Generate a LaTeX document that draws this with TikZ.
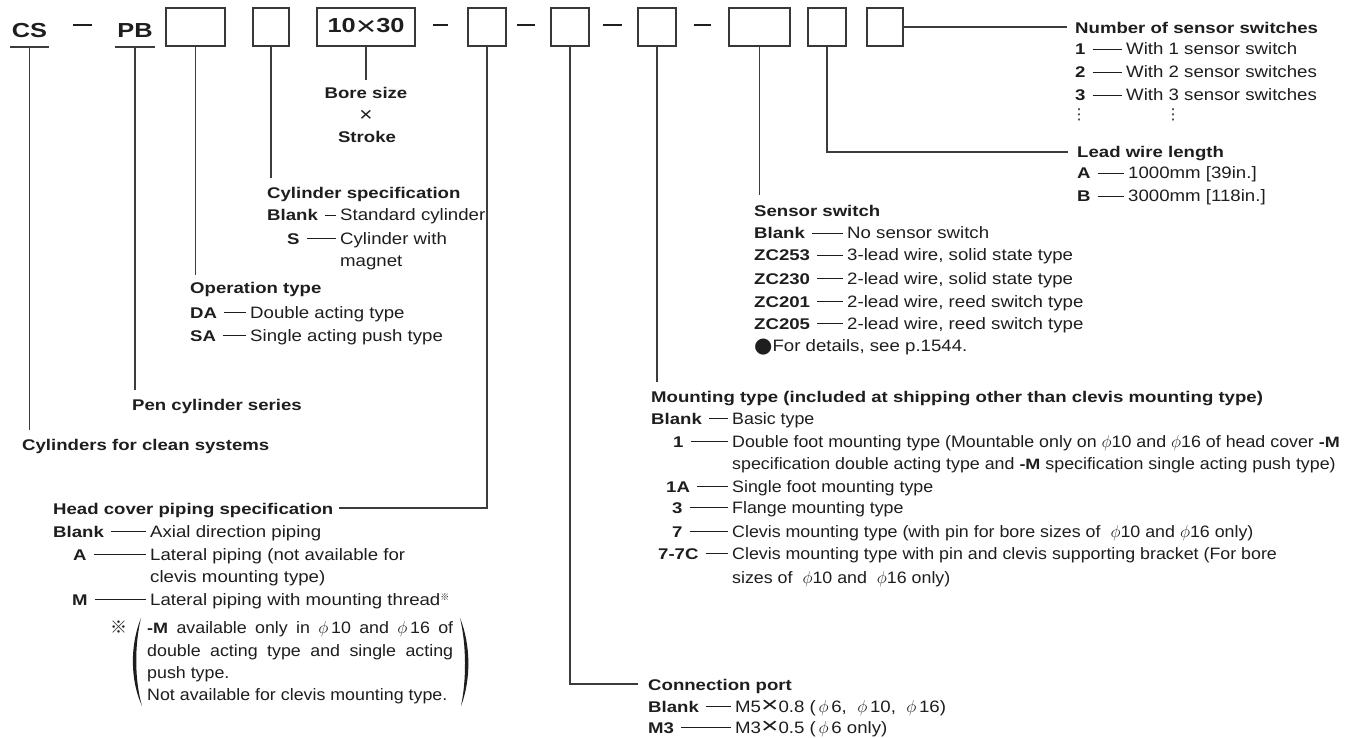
\documentclass[tikz,border=0pt]{standalone}
\usepackage{fontspec}
\setmainfont{Liberation Sans}
\newfontfamily\bdf[FakeStretch=1.13]{Liberation Sans}
\newfontfamily\bdn[FakeStretch=1.08]{Liberation Sans}
\newfontfamily\hdf[FakeStretch=1.2]{Liberation Sans Bold}
\newfontfamily\bigf[FakeStretch=1.25]{Liberation Sans Bold}
\newfontfamily\bigreg[FakeStretch=1.3]{Liberation Sans}
\newfontfamily\cjk{Noto Sans CJK JP}
\newfontfamily\dejavu{DejaVu Sans}
\definecolor{ink}{HTML}{1E1E1E}
\definecolor{linec}{HTML}{3C3C3C}
\definecolor{boxc}{HTML}{383838}
\newcommand\bd{\bdf\fontsize{16.5}{19}\selectfont}
\newcommand\bdnarrow{\bdn\fontsize{16.5}{19}\selectfont}
\newcommand\hd{\hdf\fontsize{15.5}{18}\selectfont}
\newcommand\hdb{\bigf\fontsize{20.3}{24}\selectfont}
\newcommand\phx{$\phi$}
\newcommand\boldM{{\hdf\fontsize{15}{18}\selectfont -M}}
\newcommand\mX{\raisebox{-0.5pt}{\scalebox{1.6}[1.35]{×}}}
\newcommand\BX{\raisebox{-2.5pt}{\bigreg\fontsize{27}{27}\selectfont ×}}
\newcommand\Row[6]{%
  \node[cd] (#1c) at (#2,#3) {#4};
  \node[lbl] (#1t) at (#5,#3) {#6};
  \draw[dsh] (#1c.east) -- (#1t.west);}
\newcommand\RowN[6]{%
  \node[cd] (#1c) at (#2,#3) {#4};
  \node[lbl, font=\bdnarrow] (#1t) at (#5,#3) {#6};
  \draw[dsh] (#1c.east) -- (#1t.west);}
\begin{document}
\begin{tikzpicture}[x=1pt,y=-1pt,
  lbl/.style={anchor=west, inner sep=0pt, text height=12pt, text depth=0pt, text=ink, font=\bd},
  lbln/.style={lbl, font=\bdnarrow},
  hd/.style={lbl, font=\hd},
  cd/.style={lbl, font=\hd},
  box/.style={draw=boxc, line width=1.3pt, inner sep=0pt, minimum height=38pt},
  conn/.style={draw=linec, line width=1.1pt},
  dsh/.style={draw=ink, line width=0.8pt, shorten <=7pt, shorten >=4pt},
  hdash/.style={fill=ink, inner sep=0pt, minimum height=1.5pt},
  big/.style={font=\hdb, text=ink, text height=14.5pt, text depth=0pt, inner ysep=9.7pt},
]
\useasboundingbox[fill=white] (0,0) rectangle (1363,738);

% ---------- code line ----------
\node[big, inner xsep=1.2pt] (cs) at (29.5,30) {CS};
\node[big, inner xsep=1.7pt] (pb) at (135,30) {PB};
\draw[conn, line width=1.3pt] (cs.south west) -- (cs.south east);
\draw[conn, line width=1.3pt] (pb.south west) -- (pb.south east);

\node[box, minimum width=59pt] (b1) at (195.5,27) {};
\node[box, minimum width=36pt] (b2) at (271,27) {};
\node[box, minimum width=98pt, font=\hdb, text=ink] (b3) at (366,27) {10\BX30};
\node[box, minimum width=38pt] (b4) at (487,27) {};
\node[box, minimum width=38pt] (b5) at (570,27) {};
\node[box, minimum width=38pt] (b6) at (657,27) {};
\node[box, minimum width=61pt] (b7) at (759.5,27) {};
\node[box, minimum width=38pt] (b8) at (827,27) {};
\node[box, minimum width=36pt] (b9) at (885,27) {};

\node[hdash, minimum width=19pt] (d1) at (82.5,25) {};
\node[hdash, minimum width=15pt] (d2) at (440.5,25) {};
\node[hdash, minimum width=18pt] (d3) at (526,25) {};
\node[hdash, minimum width=19pt] (d4) at (612.5,25) {};
\node[hdash, minimum width=17pt] (d5) at (702.5,25) {};

% ---------- labels ----------
\node[hd, anchor=center] (bore) at (366,93) {Bore size};
\node[anchor=center, inner sep=0pt, text=ink, font={\bdf\fontsize{20}{20}\selectfont}] (bx) at (366,116) {×};
\node[hd, anchor=center] (stroke) at (367,137) {Stroke};

% Number of sensor switches
\node[hd] (ns) at (1075,28) {Number of sensor switches};
\Row{nsa}{1075}{49}{1}{1126}{With 1 sensor switch}
\Row{nsb}{1075}{72}{2}{1126}{With 2 sensor switches}
\Row{nsc}{1075}{95}{3}{1126}{With 3 sensor switches}
\node[anchor=center, inner sep=0pt, text=ink, font={\dejavu\fontsize{15}{15}\selectfont}] (vda) at (1079,115) {⋮};
\node[anchor=center, inner sep=0pt, text=ink, font={\dejavu\fontsize{15}{15}\selectfont}] (vdb) at (1173,115) {⋮};

% Lead wire length
\node[hd] (lw) at (1077,152) {Lead wire length};
\Row{lwa}{1077}{173}{A}{1128}{1000mm [39in.]}
\Row{lwb}{1077}{196}{B}{1128}{3000mm [118in.]}

% Sensor switch
\node[hd] (ss) at (754,211) {Sensor switch};
\Row{ssa}{754}{233}{Blank}{847}{No sensor switch}
\Row{ssb}{754}{255}{ZC253}{847}{3-lead wire, solid state type}
\Row{ssc}{754}{278}{ZC230}{847}{2-lead wire, solid state type}
\Row{ssd}{754}{301}{ZC201}{847}{2-lead wire, reed switch type}
\Row{sse}{754}{323}{ZC205}{847}{2-lead wire, reed switch type}
\node[lbl] (ssn) at (754,345) {{\dejavu\fontsize{21}{21}\selectfont\raisebox{-1.5pt}{●}}For details, see p.1544.};

% Mounting type
\node[hd] (mt) at (651,396) {Mounting type (included at shipping other than clevis mounting type)};
\RowN{mta}{651}{418}{Blank}{732}{Basic type}
\RowN{mtb}{673}{441}{1}{732}{Double foot mounting type (Mountable only on \phx10 and \phx16 of head cover \boldM}
\node[lbln] (mtb2) at (732,463) {specification double acting type and \boldM\ specification single acting push type)};
\RowN{mtc}{666}{486}{1A}{732}{Single foot mounting type}
\RowN{mtd}{672}{507}{3}{732}{Flange mounting type}
\RowN{mte}{672}{531}{7}{732}{Clevis mounting type (with pin for bore sizes of \ \phx10 and \phx16 only)}
\RowN{mtf}{658}{553}{7-7C}{732}{Clevis mounting type with pin and clevis supporting bracket (For bore}
\node[lbln] (mtf2) at (732,577) {sizes of \ \phx10 and \ \phx16 only)};

% Cylinder specification
\node[hd] (cy) at (267,193) {Cylinder specification};
\Row{cya}{267}{215}{Blank}{340}{Standard cylinder}
\Row{cyb}{287}{238}{S}{340}{Cylinder with}
\node[lbl] (cyb2) at (340,260) {magnet};

% Operation type
\node[hd] (op) at (190,288) {Operation type};
\Row{opa}{190}{312}{DA}{250}{Double acting type}
\Row{opb}{190}{335}{SA}{250}{Single acting push type}

\node[hd] (pen) at (132,404) {Pen cylinder series};
\node[hd] (cyl) at (22,444) {Cylinders for clean systems};

% Head cover piping specification
\node[hd] (hc) at (53,508) {Head cover piping specification};
\Row{hca}{53}{531}{Blank}{150}{Axial direction piping}
\Row{hcb}{73}{554}{A}{150}{Lateral piping (not available for}
\node[lbl] (hcb2) at (150,576) {clevis mounting type)};
\Row{hcc}{72}{599}{M}{150}{Lateral piping with mounting thread\raisebox{5pt}{\cjk\fontsize{9}{9}\selectfont ※}}
\node[lbl, font={\cjk\fontsize{17}{17}\selectfont}] (refm) at (110,627) {※};
\node[lbln] (n1) at (147,627) {\makebox[306pt][s]{\boldM\ available only in \phx\,10 and \phx\,16 of}};
\node[lbln] (n2) at (147,650) {\makebox[306pt][s]{double acting type and single acting}};
\node[lbln] (n3) at (147,672) {push type.};
\node[lbln] (n4) at (147,694) {Not available for clevis mounting type.};
\fill[ink] (141,618) .. controls (130,645) and (130,680) .. (142,706)
  .. controls (134.5,680) and (134.5,645) .. (141,618);
\fill[ink] (460,618) .. controls (471,645) and (471,680) .. (461,706)
  .. controls (466.5,680) and (466.5,645) .. (460,618);

% Connection port
\node[hd] (cp) at (648,684) {Connection port};
\Row{cpa}{648}{706}{Blank}{735}{M5\mX0.8 (\,\phx\,6, \ \phx\,10, \ \phx\,16)}
\Row{cpb}{648}{727}{M3}{735}{M3\mX0.5 (\,\phx\,6 only)}

% ---------- connectors ----------
\draw[conn, shorten >=8pt] (cs.south) -- (cs.south |- cyl.north);
\draw[conn, shorten >=8pt] (pb.south) -- (pb.south |- pen.north);
\draw[conn, shorten >=7pt] (b1.south) -- (b1.south |- op.north);
\draw[conn, shorten >=9pt] (b2.south) -- (b2.south |- cy.north);
\draw[conn, shorten >=7pt] (b3.south) -- (b3.south |- bore.north);
\draw[conn, shorten >=5pt] (b4.south) |- (hc.east);
\draw[conn, shorten >=10pt] (b5.south) |- (cp.west);
\draw[conn, shorten >=8pt] (b6.south) -- (b6.south |- mt.north);
\draw[conn, shorten >=10pt] (b7.south) -- (b7.south |- ss.north);
\draw[conn, shorten >=9pt] (b8.south) |- (lw.west);
\draw[conn, shorten >=8pt] (b9.east) -- (b9.east -| ns.west);
\end{tikzpicture}
\end{document}
